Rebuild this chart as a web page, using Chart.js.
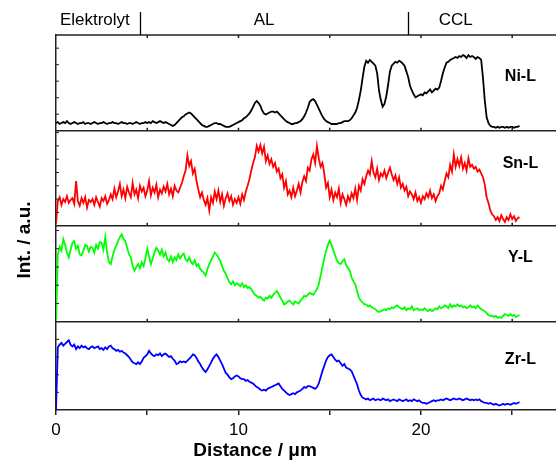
<!DOCTYPE html>
<html><head><meta charset="utf-8">
<script src="https://cdn.jsdelivr.net/npm/chart.js@4.4.1/dist/chart.umd.min.js"></script>
<style>html,body{margin:0;padding:0;background:#fff;}#wrap{width:556px;height:461px;}</style>
</head><body><div id="wrap"><canvas id="c" width="556" height="461"></canvas></div>
<script>
// sampling step along the line scan (µm)
const distanceStep = 0.1;

// Intensities (a.u., 0-100 within each panel), one value per 0.1 µm from 0 to 25.4 µm
const niL = [
8,9,7,8,9,8,10,8,7,8,
9,8,7,8,8,9,7,8,8,7,
8,9,8,7,8,8,9,8,7,8,
8,9,8,8,7,8,9,8,8,7,
8,8,7,8,9,8,7,8,8,9,
8,9,8,10,9,8,9,10,9,8,
9,8,7,6,5,6,8,10,12,14,
15,17,18,19,18,16,14,12,10,8,
6,5,4,4,5,6,7,8,8,7,
7,6,5,4,4,4,5,6,7,8,
9,10,11,13,14,16,18,21,25,29,
31,29,26,21,18,17,18,19,20,20,
19,20,18,16,14,12,10,9,8,7,
7,8,8,9,10,12,15,19,24,30,
32,33,31,27,23,19,15,12,10,9,
8,7,7,7,7,8,8,9,10,10,
10,11,13,16,19,24,32,42,55,67,
73,71,74,72,70,68,60,42,32,25,
28,36,48,62,68,70,72,71,73,72,
70,68,62,56,47,42,38,35,36,37,
38,37,40,39,41,43,40,42,44,43,
45,52,60,66,71,72,74,75,76,77,
76,78,77,79,78,76,79,77,78,77,
75,77,76,74,55,31,14,8,5,4,
4,3,4,3,4,4,3,4,3,4,
4,3,4,4,5];

const snL = [
2,26,30,22,28,25,31,24,27,29,
23,47,26,21,29,24,30,19,27,25,
28,22,30,25,20,29,26,31,23,27,
33,28,39,30,36,44,31,38,29,41,
35,30,45,33,38,29,42,36,40,31,
37,47,32,40,35,43,30,38,34,41,
36,44,33,39,31,42,37,35,40,45,
52,58,74,63,68,55,60,47,38,30,
35,27,22,29,16,30,24,36,28,37,
25,33,21,29,34,26,31,22,28,24,
30,23,33,27,36,42,49,58,66,72,
84,78,85,76,83,68,74,65,70,62,
66,57,60,50,54,40,47,33,37,30,
40,31,37,44,35,46,52,47,61,58,
70,75,66,84,71,62,66,55,40,45,
30,38,27,35,30,39,24,33,28,22,
31,26,34,29,39,27,42,37,49,44,
52,58,54,68,56,51,60,48,55,52,
58,50,56,61,54,48,53,44,51,40,
44,37,41,31,36,33,28,35,26,30,
24,31,28,34,30,37,29,33,26,31,
34,42,38,47,55,51,64,57,75,62,
70,63,72,60,66,58,71,62,64,60,
62,57,59,55,51,43,30,24,16,12,
10,6,9,5,11,7,4,9,6,12,
7,10,5,8,9];

const yL = [
0,70,78,74,86,80,72,67,75,82,
84,76,79,70,69,74,80,79,73,78,
77,72,80,76,83,82,75,88,72,62,
60,68,75,79,84,88,91,86,84,77,
70,67,58,53,57,60,56,62,58,66,
76,68,60,66,72,77,74,70,75,68,
72,65,63,68,62,67,64,70,66,69,
71,65,63,67,62,60,64,58,60,55,
53,51,48,55,60,64,68,72,70,67,
63,58,53,50,45,41,39,42,38,40,
39,37,40,36,38,35,36,34,31,28,
27,25,26,23.6,22,25,24,27,25,28,
30,32,29,25,22,18,19,21,22,20,
18,21,20,19,22,24,27,26,28,30,
29,28,31,34,39,48,57,66,74,80,
84.5,80,74,69,63.5,61,60,63,65,59,
56,53,46,42,39,32,25,22,20,18,
18,16,17,15,14,13,11,10,11,12,
13,12,14,13,15,14,16,17,15,14,
13,15,12,14,13,16,12,13,14,12,
13,12,14,12,11,13,11,12,14,13,
16,14,15,17,16,14,18,15,17,16,
18,16,17,15,16,14,15,17,15,16,
14,17,15,13,12,11,9,7,6,6,
5,6,4,5,4,6,8,7,6,8,
6,7,5,6,7];

const zrL = [
0,71,74,76,73,75,77,79,74,72,
74,69,72,70,73,71,72,70,69,71,
72,70,71,72,69,70,68,71,69,72,
73,70,69,67,68,66,67,65,64,62,
60,57,54,53,52,54,52,55,59,61,
63,67,64,62,61,63,62,64,61,63,
64,62,60,61,58,56,52,53,55,54,
55,54,56,58,60,63,62,59,55,52,
48,45,43,46,50,54,58,61,63,60,
56,52,47,42,40,37,35,36,38,39,
38,36,35,35,33,34,32,31,30,28,
26,25,23,22,23,22,24,25,26,27,
28,29,30,27,24,22,20,18,17,18,
19,18,20,21,22,24,26,25,27,27,
26,25,24,26,30,37,44,50,56,60,
62,63,60,57,55,56,53,50,52,48,
47,46,44,39,34,29,22,17,14,13,
12,13,11,12,13,11,12,12,11,13,
12,11,12,10,11,12,11,10,12,11,
10,11,12,10,11,10,12,11,10,11,
9,8,8,7,8,9,10,11,10,11,
11,12,11,12,13,12,11,12,13,12,
12,13,12,11,12,13,12,11,12,11,
12,11,12,10,9,8,8,7,8,7,
6,7,6,5,6,7,6,7,7,6,
7,8,7,8,9];

const seriesNames = ['Ni-L', 'Sn-L', 'Y-L', 'Zr-L'];
const xTickLabels = [0, 10, 20];
const regionNames = ['Elektrolyt', 'AL', 'CCL'];
const regionBoundaries = [4.6, 19.27];   // µm
const regionLabelCenters = [2.13, 11.4, 21.9]; // µm

const distance = niL.map((_, i) => Math.round(i * distanceStep * 10) / 10);
const toXY = arr => arr.map((v, i) => ({x: distance[i], y: v}));

const FONT = '"Liberation Sans", Arial, sans-serif';
const AX = '#222';

const panels = [
  {id: 'yNi', data: niL, color: '#000000', weight: 95.7, order: 4, step: 17.25, labelY: 57},
  {id: 'ySn', data: snL, color: '#ff0000', weight: 95,   order: 3, step: 14,    labelY: 65},
  {id: 'yY',  data: yL,  color: '#00ff00', weight: 96,   order: 2, step: 19,    labelY: 67},
  {id: 'yZr', data: zrL, color: '#0000ff', weight: 88.3, order: 1, step: 20,    labelY: 57}
];

const scales = {
  x: {
    type: 'linear', position: 'bottom', min: 0, max: 27.4,
    afterFit: s => { s.height = 51; },
    ticks: {stepSize: 5, includeBounds: false, autoSkip: false, maxRotation: 0, padding: 5,
      color: '#000', font: {family: FONT, size: 17},
      callback: v => xTickLabels.includes(v) ? String(v) : ''},
    grid: {display: true, drawOnChartArea: false, drawTicks: true, tickLength: 5, color: AX, lineWidth: 1.5},
    border: {display: true, color: AX, width: 1.5}
  }
};
panels.forEach(p => {
  scales[p.id] = {
    type: 'linear', position: 'left', stack: 'panels', stackWeight: p.weight, weight: p.order,
    min: 0, max: 100,
    afterFit: s => { s.width = 0; },
    ticks: {display: false, stepSize: p.step, includeBounds: false},
    grid: {display: false},
    border: {display: true, color: AX, width: 1.5}
  };
});

const decor = {
  id: 'decor',
  afterDraw(chart) {
    const ctx = chart.ctx, xs = chart.scales.x, area = chart.chartArea;
    ctx.save();
    ctx.strokeStyle = AX; ctx.lineWidth = 1.5;
    const seg = (x1, y1, x2, y2) => { ctx.beginPath(); ctx.moveTo(x1, y1); ctx.lineTo(x2, y2); ctx.stroke(); };
    const topY = chart.scales.yNi.top;
    seg(area.left, topY, area.right, topY);
    xs.ticks.forEach(t => { const px = xs.getPixelForValue(t.value); if (px > area.left + 1) seg(px, topY, px, topY + 3); });
    panels.slice(0, 3).forEach(p => {
      const yb = chart.scales[p.id].bottom;
      seg(area.left, yb, area.right, yb);
      xs.ticks.forEach(t => { const px = xs.getPixelForValue(t.value); if (px > area.left + 1) seg(px, yb, px, yb - 3); });
    });
    ctx.lineWidth = 1;
    panels.forEach(p => {
      const s = chart.scales[p.id];
      s.ticks.forEach(t => { if (t.value > 0 && t.value < 100) { const py = s.getPixelForValue(t.value); seg(area.left, py, area.left + 3, py); } });
    });
    // panel labels
    ctx.fillStyle = '#000'; ctx.textAlign = 'center'; ctx.textBaseline = 'middle';
    ctx.font = 'bold 16px ' + FONT;
    panels.forEach((p, i) => {
      const s = chart.scales[p.id];
      ctx.fillText(seriesNames[i], xs.getPixelForValue(25.45), s.getPixelForValue(p.labelY));
    });
    // region header
    ctx.font = '17px ' + FONT;
    regionNames.forEach((n, i) => ctx.fillText(n, xs.getPixelForValue(regionLabelCenters[i]), 20));
    ctx.lineWidth = 1.3; ctx.strokeStyle = '#000';
    regionBoundaries.forEach(b => { const px = Math.round(xs.getPixelForValue(b)) + 0.5; seg(px, 12, px, topY); });
    // axis titles
    ctx.font = 'bold 19px ' + FONT;
    ctx.fillText('Distance / \u03bcm', 255, 451);
    ctx.save();
    ctx.translate(25, 240); ctx.rotate(-Math.PI / 2);
    ctx.fillText('Int. / a.u.', 0, 0);
    ctx.restore();
    ctx.restore();
  }
};

new Chart(document.getElementById('c'), {
  type: 'line',
  data: {
    datasets: panels.map((p, i) => ({
      label: seriesNames[i], data: toXY(p.data), xAxisID: 'x', yAxisID: p.id,
      borderColor: p.color, borderWidth: 1.8, pointRadius: 0, tension: 0, fill: false
    }))
  },
  options: {
    responsive: false, animation: false, events: [], devicePixelRatio: 1,
    layout: {padding: {left: 56, top: 35, right: 0, bottom: 0}},
    plugins: {legend: {display: false}, tooltip: {enabled: false}},
    scales
  },
  plugins: [decor]
});
</script></body></html>
